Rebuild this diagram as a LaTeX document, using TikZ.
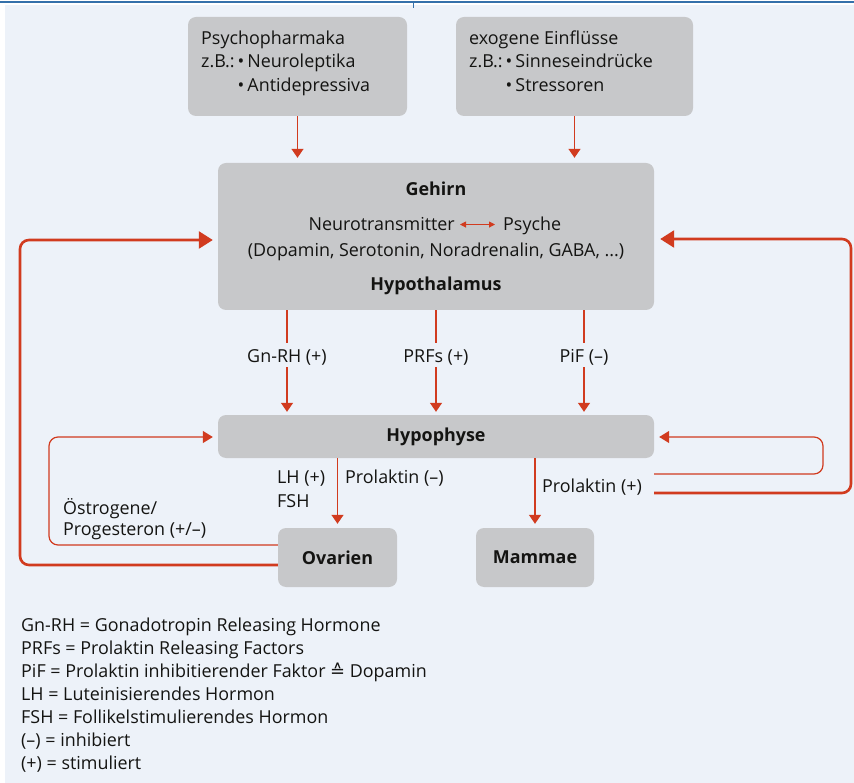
\documentclass[tikz,border=0pt]{standalone}
\usepackage{fontspec}
\setmainfont{Open Sans}
\newfontfamily\symfont{DejaVu Sans}
\usetikzlibrary{arrows.meta}
\definecolor{bg}{RGB}{237,242,249}
\definecolor{boxgray}{RGB}{199,200,202}
\definecolor{arrred}{RGB}{209,59,31}
\definecolor{topblue}{RGB}{52,112,170}
\definecolor{txt}{RGB}{20,20,18}
\newcommand\fs{\fontsize{17.9}{23}\selectfont}
\begin{document}
\begin{tikzpicture}[x=1pt,y=-1pt, font=\fs, text=txt,
 box/.style={fill=boxgray, rounded corners=8pt, inner sep=0pt, draw=none},
 bld/.style={font=\fs\bfseries},
 vline/.style={draw=arrred, line width=1.3pt},
 varr/.style={vline, -{Triangle[length=9pt,width=12pt]}},
 thickloop/.style={draw=arrred, line width=2.6pt, rounded corners=9pt, -{Triangle[length=14pt,width=17pt]}},
 thinloop/.style={draw=arrred, line width=1.2pt, rounded corners=9pt, -{Triangle[length=10pt,width=12pt]}},
 lbl/.style={inner xsep=2pt, inner ysep=0pt, text height=20pt, text depth=4pt},
 tl/.style={anchor=base west, inner sep=0pt},
 tr/.style={anchor=base east, inner sep=0pt},
 tc/.style={anchor=base, inner sep=0pt},
]
\useasboundingbox (0,0) rectangle (854,783);
\fill[white] (0,0) rectangle (854,783);
\fill[bg] (5,5) rectangle (854,783);
\draw[topblue, line width=2.2pt] (0,2) -- (854,2);
\draw[topblue, line width=1pt] (413,2) -- (413,8);

% top boxes
\node[box, minimum width=219pt, minimum height=99pt] (psy) at (297.5,66.5) {};
\node[tl] (psy1) at (201,45) {Psychopharmaka};
\node[tl] (psy2) at (201,68) {z.B.:\,•\,Neuroleptika};
\node[tl] (psy3) at (201,92) {\phantom{z.B.:\,}•\,Antidepressiva};

\node[box, minimum width=237pt, minimum height=99pt] (exo) at (574.5,66.5) {};
\node[tl] (exo1) at (469,45) {exogene Einflüsse};
\node[tl] (exo2) at (469,68) {z.B.:\,•\,Sinneseindrücke};
\node[tl] (exo3) at (469,92) {\phantom{z.B.:\,}•\,Stressoren};

% Gehirn
\node[box, minimum width=436pt, minimum height=147pt] (gehirn) at (436,236.5) {};
\node[tc, bld] (geh) at (436,196) {Gehirn};
\node[tr] (nt) at (455,231) {Neurotransmitter};
\node[tl] (ps) at (503,231) {Psyche};
\node[tc] (dop) at (436,257) {(Dopamin, Serotonin, Noradrenalin, GABA, ...)};
\node[tc, bld] (hth) at (436,291) {Hypothalamus};
\draw[arrred, line width=1pt, {Triangle[length=6pt,width=6pt]}-{Triangle[length=6pt,width=6pt]}, shorten <=5pt, shorten >=8pt] (nt.east) -- (nt.east -| ps.west);

\draw[varr, shorten >=5pt] (psy.south) -- (psy.south |- gehirn.north);
\draw[varr, shorten >=5pt] (exo.south) -- (exo.south |- gehirn.north);

% Hypophyse
\node[box, minimum width=436pt, minimum height=43pt, bld] (hypo) at (436,436.5) {Hypophyse};

\node[lbl] (gn) at (287,355) {Gn-RH (+)};
\node[lbl] (prf) at (436,355) {PRFs (+)};
\node[lbl] (pif) at (584,355) {PiF (–)};
\foreach \n in {gn,prf,pif}{
  \draw[vline] (\n.north |- gehirn.south) -- (\n.north);
  \draw[varr, shorten >=3pt] (\n.south) -- (\n.south |- hypo.north);
}

% lower boxes
\node[box, minimum width=119pt, minimum height=59pt, bld] (ovar) at (337.5,557.5) {Ovarien};
\node[box, minimum width=118pt, minimum height=59pt, bld] (mamm) at (535,557.5) {Mammae};
\draw[varr, shorten >=4pt] (hypo.south -| ovar.north) -- (ovar.north);
\draw[varr, shorten >=4pt] (hypo.south -| mamm.north) -- (mamm.north);

\node[tl] (lh) at (277,483) {LH (+)};
\node[tl] (fsh) at (277,507) {FSH};
\node[tl] (prm) at (345,483) {Prolaktin (–)};
\node[tl] (prp) at (542,492) {Prolaktin (+)};
\node[tl] (oe1) at (63,514) {Östrogene/};
\node[tl] (oe2) at (63,535) {Progesteron (+/–)};

% feedback loops
\draw[thickloop, shorten >=5pt] (ovar.west |- 0,565) -- (20,565) -- (20,240) -- (gehirn.west |- 0,240);
\draw[thinloop, shorten >=5pt] (ovar.west |- 0,545) -- (49,545) -- (49,437) -- (hypo.west |- 0,437);
\coordinate (pp) at (654,493);
\coordinate (pm) at (654,474);
\draw[thickloop, shorten >=6pt] (pp) -- (851,493) -- (851,239) -- (gehirn.east |- 0,239);
\draw[thinloop, shorten >=5pt] (pm) -- (823,474) -- (823,437) -- (hypo.east |- 0,437);

% legend
\node[tl] (l1) at (21,631) {Gn-RH = Gonadotropin Releasing Hormone};
\node[tl] (l2) at (21,654) {PRFs = Prolaktin Releasing Factors};
\node[tl] (l3) at (21,677) {PiF = Prolaktin inhibitierender Faktor {\symfont ≙} Dopamin};
\node[tl] (l4) at (21,700) {LH = Luteinisierendes Hormon};
\node[tl] (l5) at (21,723) {FSH = Follikelstimulierendes Hormon};
\node[tl] (l6) at (21,746) {(–) = inhibiert};
\node[tl] (l7) at (21,769) {(+) = stimuliert};
\end{tikzpicture}
\end{document}
